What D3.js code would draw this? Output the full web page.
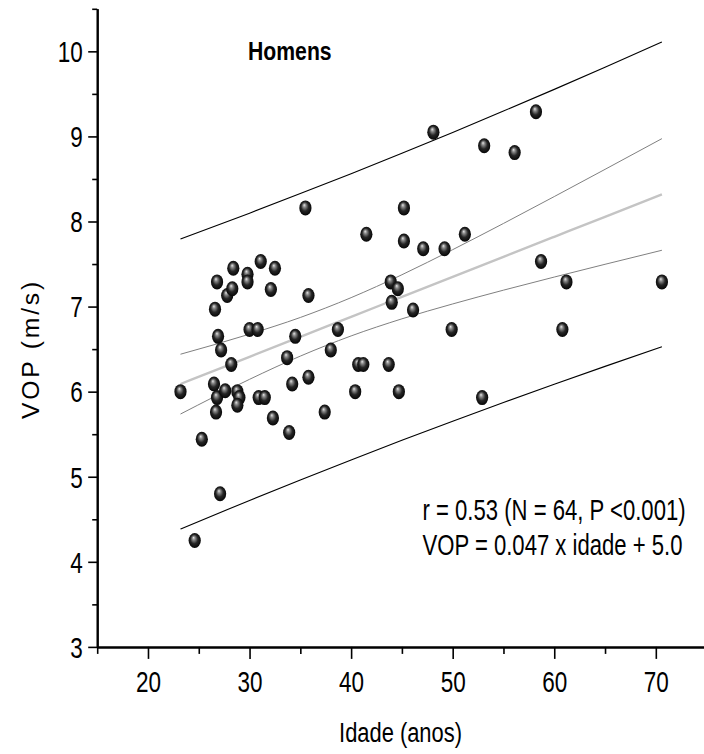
<!DOCTYPE html>
<html>
<head>
<meta charset="utf-8">
<script src="https://cdn.jsdelivr.net/npm/d3@7"></script>
<style>
  body { margin: 0; background: #fff; }
  svg { display: block; }
  text { font-family: "Liberation Sans", Arial, sans-serif; fill: #000; }
</style>
</head>
<body>
<svg id="chart" width="704" height="754"></svg>
<script>
// age (anos) and VOP (m/s) for each man
const idade = [23.2, 24.6, 25.3, 26.8, 26.6, 26.9, 27.2, 28.2, 26.5, 26.8,
  26.7, 27.6, 27.1, 27.8, 28.3, 28.4, 29.8, 29.8, 31.1, 32.5,
  32.1, 30.0, 30.8, 28.8, 29.0, 28.8, 30.9, 31.5, 32.3, 33.9,
  34.2, 33.7, 34.5, 35.8, 35.5, 35.8, 37.4, 38.0, 38.7, 40.4,
  40.7, 41.2, 41.5, 43.7, 43.9, 44.0, 44.6, 44.7, 45.2, 45.2,
  46.1, 47.1, 48.1, 49.2, 49.9, 51.2, 52.9, 53.1, 56.1, 58.2,
  58.7, 60.8, 61.2, 70.6];
const vop = [6.00, 4.25, 5.44, 7.29, 6.97, 6.65, 6.49, 6.32, 6.09, 5.93,
  5.76, 6.01, 4.80, 7.13, 7.21, 7.45, 7.38, 7.29, 7.53, 7.45,
  7.20, 6.73, 6.73, 6.00, 5.93, 5.84, 5.93, 5.93, 5.69, 5.52,
  6.09, 6.40, 6.65, 6.17, 8.16, 7.13, 5.76, 6.49, 6.73, 6.00,
  6.32, 6.32, 7.85, 6.32, 7.29, 7.05, 7.21, 6.00, 7.77, 8.16,
  6.96, 7.68, 9.05, 7.68, 6.73, 7.85, 5.93, 8.89, 8.81, 9.29,
  7.53, 6.73, 7.29, 7.29];

// fitted line and bands, read at these ages
const bandAge = [23.2, 30, 35, 40, 45, 50, 55, 60, 65, 70.6];
const fitLine = [6.09, 6.41, 6.645, 6.88, 7.115, 7.35, 7.585, 7.82, 8.055, 8.318];
const ciUpper = [6.44, 6.676, 6.872, 7.105, 7.374, 7.669, 7.977, 8.293, 8.613, 8.974];
const ciLower = [5.737, 6.145, 6.418, 6.655, 6.856, 7.031, 7.193, 7.347, 7.497, 7.662];
const piUpper = [7.794, 8.098, 8.328, 8.562, 8.802, 9.047, 9.298, 9.553, 9.813, 10.109];
const piLower = [4.386, 4.722, 4.963, 5.198, 5.428, 5.653, 5.872, 6.087, 6.297, 6.527];

const xMajor = [20, 30, 40, 50, 60, 70];
const xMinor = [15, 25, 35, 45, 55, 65, 75];
const yMajor = [3, 4, 5, 6, 7, 8, 9, 10];
const yMinor = [3.5, 4.5, 5.5, 6.5, 7.5, 8.5, 9.5, 10.5];

const svg = d3.select("#chart");

const x = d3.scaleLinear().domain([15, 75]).range([97.2, 706.6]);
const y = d3.scaleLinear().domain([3, 10.5]).range([646.9, 8.8]);

// text is tall and narrow in the original, stretch it vertically
const stretch = 1.28;

// shaded ball
const grad = svg.append("defs").append("radialGradient")
  .attr("id", "ball").attr("cx", 0.5).attr("cy", 0.5).attr("r", 0.55)
  .attr("fx", 0.4).attr("fy", 0.3);
grad.append("stop").attr("offset", "0%").attr("stop-color", "#e6e6e6");
grad.append("stop").attr("offset", "22%").attr("stop-color", "#8a8a8a");
grad.append("stop").attr("offset", "55%").attr("stop-color", "#262626");
grad.append("stop").attr("offset", "100%").attr("stop-color", "#000");

// axes
function styleAxis(g) {
  g.select(".domain").attr("stroke-width", 2);
  g.selectAll(".tick line").attr("stroke-width", 1.6);
}

axisG = svg.append("g");
axisG.append("g").attr("transform", "translate(0,646.9)")
  .call(d3.axisBottom(x).tickValues(xMinor).tickSize(7).tickSizeOuter(0).tickFormat(""))
  .call(styleAxis);
axisG.append("g").attr("transform", "translate(0,646.9)")
  .call(d3.axisBottom(x).tickValues(xMajor).tickSize(12).tickSizeOuter(0))
  .call(styleAxis)
  .call(g => g.selectAll(".tick text")
    .attr("y", null).attr("dy", null)
    .attr("transform", "translate(0,45.4) scale(1," + stretch + ")")
    .style("font-size", "22.5px"));
axisG.append("g").attr("transform", "translate(97.2,0)")
  .call(d3.axisLeft(y).tickValues(yMinor).tickSize(5).tickSizeOuter(0).tickFormat(""))
  .call(styleAxis);
axisG.append("g").attr("transform", "translate(97.2,0)")
  .call(d3.axisLeft(y).tickValues(yMajor).tickSize(9).tickSizeOuter(0))
  .call(styleAxis)
  .call(g => g.selectAll(".tick text")
    .attr("x", null).attr("dy", null)
    .attr("transform", "translate(-14.5,10.3) scale(1," + stretch + ")")
    .style("font-size", "22.5px"));

// bands and fit
const line = d3.line()
  .x((d, i) => x(bandAge[i]))
  .y(d => y(d))
  .curve(d3.curveMonotoneX);

const bands = [
  { v: piUpper, c: "#000", w: 1.1 },
  { v: piLower, c: "#000", w: 1.1 },
  { v: ciUpper, c: "#808080", w: 1 },
  { v: ciLower, c: "#808080", w: 1 },
  { v: fitLine, c: "#c4c4c4", w: 2.4 }
];
svg.append("g").selectAll("path").data(bands).enter().append("path")
  .attr("d", d => line(d.v))
  .attr("fill", "none")
  .attr("stroke", d => d.c)
  .attr("stroke-width", d => d.w);

// points
svg.append("g").selectAll("ellipse").data(idade).enter().append("ellipse")
  .attr("cx", d => x(d))
  .attr("cy", (d, i) => y(vop[i]))
  .attr("rx", 6.1)
  .attr("ry", 7.5)
  .attr("fill", "url(#ball)");

// labels
function tallText(px, py, size, s) {
  return svg.append("text")
    .attr("transform", "translate(" + px + "," + py + ") scale(1," + s + ")")
    .style("font-size", size + "px");
}

tallText(248, 60, 21.2, 1.2).style("font-weight", "bold").text("Homens");

tallText(422.5, 520, 22.1, 1.3).text("r = 0.53 (N = 64, P <0.001)");
tallText(422.5, 555, 22.1, 1.3).text("VOP = 0.047 x idade + 5.0");

tallText(400.5, 742, 21.9, stretch).attr("text-anchor", "middle").text("Idade (anos)");

svg.append("text")
  .attr("transform", "translate(38.5,349) rotate(-90)")
  .attr("text-anchor", "middle")
  .style("font-size", "24.7px").style("letter-spacing", "2.8px")
  .text("VOP (m/s)");
</script>
</body>
</html>
